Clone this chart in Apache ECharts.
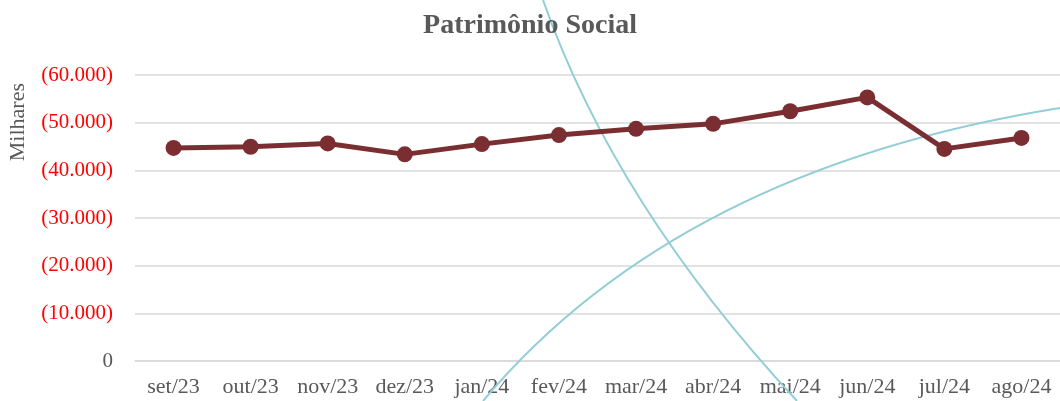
<!DOCTYPE html>
<html>
<head>
<meta charset="utf-8">
<script src="https://cdn.jsdelivr.net/npm/echarts@6/dist/echarts.min.js"></script>
<style>
  html, body { margin: 0; padding: 0; background: #fff; }
  #chart { width: 1060px; height: 401px; }
</style>
</head>
<body>
<div id="chart"></div>
<script>
// dados (milhares)
const months = ["set/23", "out/23", "nov/23", "dez/23", "jan/24", "fev/24",
  "mar/24", "abr/24", "mai/24", "jun/24", "jul/24", "ago/24"];
const patrimonio = [44700, 44950, 45650, 43350, 45500, 47400,
  48700, 49750, 52400, 55300, 44500, 46800];
const yTicks = [0, 10000, 20000, 30000, 40000, 50000, 60000];

const FONT = "Liberation Serif";

const fmt = v => {
  if (v === 0) return "{z|0}";
  return "{n|(" + v.toLocaleString("de-DE") + ")}";
};

let chart = echarts.init(document.getElementById("chart"));
let option = {
  backgroundColor: "#ffffff",
  animation: false,
  title: {
    text: "Patrimônio Social",
    left: "center",
    top: 7,
    textStyle: { fontFamily: FONT, fontSize: 28, fontWeight: "bold", color: "#595959" },
  },
  grid: { left: 135, right: 0, top: 75, bottom: 40 },
  xAxis: {
    type: "category",
    data: months,
    boundaryGap: true,
    axisLine: { lineStyle: { color: "#d9d9d9", width: 1.5 } },
    axisTick: { inside: true, length: 6, lineStyle: { color: "#d9d9d9", width: 1.5 } },
    axisLabel: { fontFamily: FONT, fontSize: 22, color: "#595959", margin: 15, interval: 0 },
  },
  yAxis: {
    type: "value",
    min: yTicks[0],
    max: yTicks[yTicks.length - 1],
    interval: 10000,
    axisLine: { show: false },
    axisTick: { show: false },
    splitLine: { lineStyle: { color: "#d9d9d9", width: 1.5 } },
    axisLabel: {
      margin: 22,
      formatter: fmt,
      rich: {
        n: { fontFamily: FONT, fontSize: 21, color: "#ff0000" },
        z: { fontFamily: FONT, fontSize: 21, color: "#595959" },
      },
    },
  },
  graphic: [
    {
      type: "text",
      left: 7,
      top: 83,
      rotation: Math.PI / 2,
      style: { text: "Milhares", font: "22px " + FONT, fill: "#595959" },
    },
    // curvas decorativas do fundo do slide
    {
      type: "bezierCurve", z: 1, silent: true,
      shape: { x1: 543, y1: 0, x2: 797, y2: 401, cpx1: 615, cpy1: 205 },
      style: { stroke: "#93cdd7", lineWidth: 2, fill: null },
    },
    {
      type: "bezierCurve", z: 1, silent: true,
      shape: { x1: 483, y1: 401, x2: 1060, y2: 108, cpx1: 678, cpy1: 169 },
      style: { stroke: "#93cdd7", lineWidth: 2, fill: null },
    },
  ],
  series: [
    {
      name: "Patrimônio Social",
      type: "line",
      data: patrimonio,
      z: 5,
      symbol: "circle",
      symbolSize: 16,
      clip: false,
      lineStyle: { color: "#7b2e31", width: 5 },
      itemStyle: { color: "#7b2e31" },
    },
  ],
};
chart.setOption(option);
</script>
</body>
</html>
